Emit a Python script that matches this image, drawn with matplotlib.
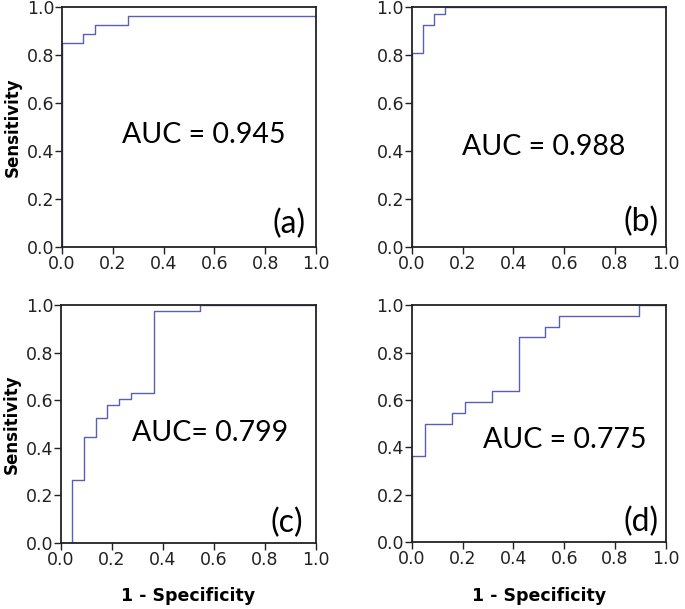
import matplotlib
matplotlib.use("Agg")
import matplotlib.pyplot as plt

# ROC step curves (1 - specificity, sensitivity)
fpr_a = [0.0, 0.0, 0.083, 0.083, 0.13, 0.13, 0.26, 0.26, 1.0]
tpr_a = [0.0, 0.852, 0.852, 0.889, 0.889, 0.926, 0.926, 0.963, 0.963]

fpr_b = [0.0, 0.0, 0.043, 0.043, 0.087, 0.087, 0.13, 0.13, 1.0]
tpr_b = [0.0, 0.81, 0.81, 0.925, 0.925, 0.972, 0.972, 1.0, 1.0]

fpr_c = [0.045, 0.045, 0.091, 0.091, 0.136, 0.136, 0.182, 0.182, 0.227, 0.227,
         0.273, 0.273, 0.364, 0.364, 0.545, 0.545, 1.0]
tpr_c = [0.0, 0.263, 0.263, 0.447, 0.447, 0.526, 0.526, 0.579, 0.579, 0.605,
         0.605, 0.632, 0.632, 0.974, 0.974, 1.0, 1.0]

fpr_d = [0.0, 0.0, 0.053, 0.053, 0.158, 0.158, 0.21, 0.21, 0.316, 0.316,
         0.421, 0.421, 0.526, 0.526, 0.579, 0.579, 0.895, 0.895, 1.0]
tpr_d = [0.0, 0.364, 0.364, 0.5, 0.5, 0.545, 0.545, 0.591, 0.591, 0.636,
         0.636, 0.864, 0.864, 0.909, 0.909, 0.955, 0.955, 1.0, 1.0]

auc_texts = ["AUC = 0.945", "AUC = 0.988", "AUC= 0.799", "AUC = 0.775"]
panel_tags = ["(a)", "(b)", "(c)", "(d)"]
ticks = [0.0, 0.2, 0.4, 0.6, 0.8, 1.0]

curves = [(fpr_a, tpr_a), (fpr_b, tpr_b), (fpr_c, tpr_c), (fpr_d, tpr_d)]
auc_pos = [(0.235, 0.467), (0.197, 0.418), (0.277, 0.46), (0.28, 0.43)]
tag_pos = [(0.96, 0.095), (0.97, 0.105), (0.95, 0.085), (0.97, 0.083)]

fig = plt.figure(figsize=(6.85, 6.09), dpi=100)
boxes = [
    [0.0905, 0.5944, 0.3708, 0.394],
    [0.601, 0.5944, 0.3712, 0.394],
    [0.089, 0.1089, 0.3723, 0.390],
    [0.601, 0.1099, 0.3712, 0.389],
]

line_color = "#5a5eb5"

for i, (fx, ty) in enumerate(curves):
    ax = fig.add_axes(boxes[i])
    ax.plot(fx, ty, color=line_color, lw=1.0)
    ax.set_xlim(0, 1)
    ax.set_ylim(0, 1)
    ax.set_xticks(ticks)
    ax.set_yticks(ticks)
    ax.set_xticklabels([f"{t:.1f}" for t in ticks])
    ax.set_yticklabels([f"{t:.1f}" for t in ticks])
    for s in ax.spines.values():
        s.set_linewidth(1.3)
        s.set_color("#222222")
    ax.tick_params(axis="both", direction="out", length=5, width=1,
                   labelsize=12.5, colors="#222222")
    ax.tick_params(axis="y", pad=0.5)
    ax.tick_params(axis="x", pad=1)
    ax.text(auc_pos[i][0], auc_pos[i][1], auc_texts[i], transform=ax.transAxes,
            fontsize=20.5, family="Lato", ha="left", va="center")
    ax.text(tag_pos[i][0], tag_pos[i][1], panel_tags[i], transform=ax.transAxes,
            fontsize=23, family="Lato", ha="right", va="center")
    if i in (0, 2):
        ax.set_ylabel("Sensitivity", fontsize=12, fontweight="bold")
        ax.yaxis.set_label_coords(-0.157, 0.5)
    if i in (2, 3):
        ax.set_xlabel("1 - Specificity", fontsize=12.5, fontweight="bold")
        ax.xaxis.set_label_coords(0.5, -0.188)

fig.savefig("out.png", dpi=100)
